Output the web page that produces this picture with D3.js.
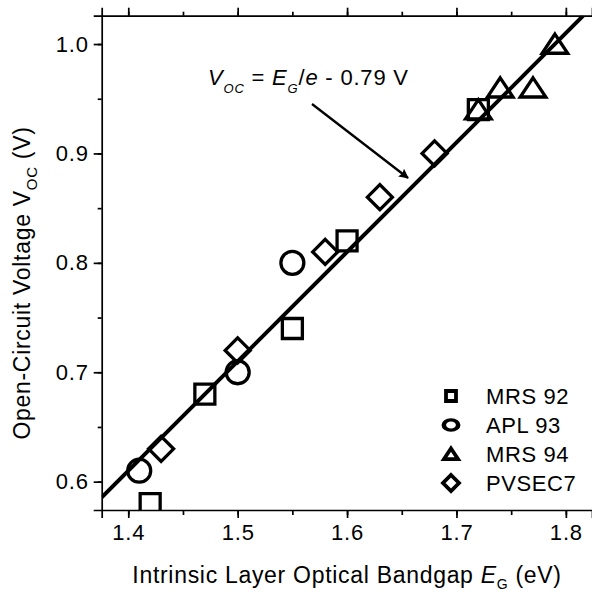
<!DOCTYPE html>
<html>
<head>
<meta charset="utf-8">
<script src="https://cdn.jsdelivr.net/npm/d3@7"></script>
<style>
  body { margin: 0; background: #fff; }
  svg text { font-family: "Liberation Sans", Arial, sans-serif; fill: #000; }
</style>
</head>
<body>
<svg id="chart" width="592" height="592"></svg>
<script>
// data
var seriesNames = ["MRS 92", "APL 93", "MRS 94", "PVSEC7"];
var mrs92Gap = [1.42, 1.47, 1.55, 1.60, 1.72];
var mrs92Voc = [0.58, 0.68, 0.74, 0.82, 0.94];
var apl93Gap = [1.41, 1.50, 1.55];
var apl93Voc = [0.61, 0.70, 0.80];
var mrs94Gap = [1.72, 1.74, 1.77, 1.79];
var mrs94Voc = [0.94, 0.96, 0.96, 1.00];
var pvsecGap = [1.43, 1.50, 1.58, 1.63, 1.68];
var pvsecVoc = [0.63, 0.72, 0.81, 0.86, 0.90];
var fitOffset = 0.79;
var xTicks = [1.4, 1.5, 1.6, 1.7, 1.8];
var yTicks = [0.6, 0.7, 0.8, 0.9, 1.0];

var svg = d3.select("#chart");
var plotLeft = 101.7, plotRight = 592, plotTop = 15.7, plotBottom = 510;

var x = d3.scaleLinear().domain([1.3757, 1.8239]).range([plotLeft, plotRight]);
var y = d3.scaleLinear().domain([0.5741, 1.0259]).range([plotBottom, plotTop]);

var defs = svg.append("defs");
defs.append("clipPath").attr("id", "plot-clip")
  .append("rect")
    .attr("x", plotLeft).attr("y", plotTop)
    .attr("width", plotRight - plotLeft).attr("height", plotBottom - plotTop);

// shapes, drawn around 0,0
var shapePath = {
  square: function(s) { return "M" + (-s) + "," + (-s) + "H" + s + "V" + s + "H" + (-s) + "Z"; },
  circle: function(s) { return "M" + (-s) + ",0A" + s + "," + s + " 0 1,0 " + s + ",0A" + s + "," + s + " 0 1,0 " + (-s) + ",0Z"; },
  triangle: function(s) { return "M0," + (-s * 0.78) + "L" + s + "," + (s * 0.72) + "L" + (-s) + "," + (s * 0.72) + "Z"; },
  diamond: function(s) { return "M0," + (-s) + "L" + s + ",0L0," + s + "L" + (-s) + ",0Z"; }
};

var series = [
  { name: seriesNames[0], shape: "square", size: 10, gap: mrs92Gap, voc: mrs92Voc },
  { name: seriesNames[1], shape: "circle", size: 11.5, gap: apl93Gap, voc: apl93Voc },
  { name: seriesNames[2], shape: "triangle", size: 12.8, gap: mrs94Gap, voc: mrs94Voc },
  { name: seriesNames[3], shape: "diamond", size: 12.5, gap: pvsecGap, voc: pvsecVoc }
];

// fit line
var fitGap = [x.domain()[0], y.domain()[1] + fitOffset];
var plot = svg.append("g").attr("clip-path", "url(#plot-clip)");
plot.append("path")
  .datum(fitGap)
  .attr("d", d3.line().x(function(d) { return x(d); }).y(function(d) { return y(d - fitOffset); }))
  .attr("fill", "none")
  .attr("stroke", "#000")
  .attr("stroke-width", 4);

series.forEach(function(s) {
  plot.selectAll(".pt-" + s.shape)
    .data(s.gap.map(function(g, i) { return [g, s.voc[i]]; }))
    .enter()
    .append("path")
      .attr("class", "pt-" + s.shape)
      .attr("transform", function(d) { return "translate(" + x(d[0]) + "," + y(d[1]) + ")"; })
      .attr("d", shapePath[s.shape](s.size))
      .attr("fill", "none")
      .attr("stroke", "#000")
      .attr("stroke-width", 3.3);
});

// axes
var xMinor = d3.range(1.4, 1.83, 0.05);
var yMinor = d3.range(0.6, 1.03, 0.05);

svg.append("g")
  .attr("transform", "translate(0," + plotBottom + ")")
  .call(d3.axisBottom(x).tickValues(xMinor).tickSize(5).tickFormat(""))
  .call(function(g) { g.select(".domain").remove(); });
svg.append("g")
  .attr("transform", "translate(0," + plotBottom + ")")
  .call(d3.axisBottom(x).tickValues(xTicks).tickSize(8).tickPadding(6).tickFormat(d3.format(".1f")));

svg.append("g")
  .attr("transform", "translate(0," + plotTop + ")")
  .call(d3.axisTop(x).tickValues(xMinor).tickSize(4).tickFormat(""))
  .call(function(g) { g.select(".domain").remove(); });
svg.append("g")
  .attr("transform", "translate(0," + plotTop + ")")
  .call(d3.axisTop(x).tickValues(xTicks).tickSize(8).tickFormat(""));

svg.append("g")
  .attr("transform", "translate(" + plotLeft + ",0)")
  .call(d3.axisLeft(y).tickValues(yMinor).tickSize(4).tickFormat(""))
  .call(function(g) { g.select(".domain").remove(); });
svg.append("g")
  .attr("transform", "translate(" + plotLeft + ",0)")
  .call(d3.axisLeft(y).tickValues(yTicks).tickSize(8).tickPadding(5).tickFormat(d3.format(".1f")));

svg.selectAll(".domain, .tick line")
  .attr("stroke", "#000")
  .attr("stroke-width", 1.7);
svg.selectAll(".tick text")
  .style("font-size", "22px")
  .style("letter-spacing", "0.8px")
  .attr("fill", "#000");

// axis titles
var xTitle = svg.append("text")
  .attr("x", 347).attr("y", 583)
  .attr("text-anchor", "middle")
  .style("font-size", "23px")
  .style("letter-spacing", "0.7px");
xTitle.append("tspan").text("Intrinsic Layer Optical Bandgap ");
xTitle.append("tspan").style("font-style", "italic").text("E");
xTitle.append("tspan").style("font-size", "14px").attr("dy", 6).text("G");
xTitle.append("tspan").attr("dy", -6).text(" (eV)");

var yTitle = svg.append("text")
  .attr("transform", "translate(30,283) rotate(-90)")
  .attr("text-anchor", "middle")
  .style("font-size", "23px")
  .style("letter-spacing", "0.7px");
yTitle.append("tspan").text("Open-Circuit Voltage V");
yTitle.append("tspan").style("font-size", "15px").attr("dy", 7).text("OC");
yTitle.append("tspan").attr("dy", -7).text(" (V)");

// annotation
var note = svg.append("text")
  .attr("x", 208).attr("y", 85)
  .style("font-size", "22px")
  .style("letter-spacing", "0.8px");
note.append("tspan").style("font-style", "italic").text("V");
note.append("tspan").style("font-style", "italic").style("font-size", "13px").attr("dy", 8).text("OC");
note.append("tspan").attr("dy", -8).text(" = ");
note.append("tspan").style("font-style", "italic").text("E");
note.append("tspan").style("font-style", "italic").style("font-size", "13px").attr("dy", 8).text("G");
note.append("tspan").attr("dy", -8).text("/");
note.append("tspan").style("font-style", "italic").text("e");
note.append("tspan").text(" - 0.79 V");

defs.append("marker")
  .attr("id", "arrowhead")
  .attr("viewBox", "0 0 10 10")
  .attr("refX", 9).attr("refY", 5)
  .attr("markerWidth", 7).attr("markerHeight", 4.2)
  .attr("markerUnits", "strokeWidth")
  .attr("orient", "auto")
  .append("path")
    .attr("d", "M0,0L10,5L0,10L1.5,5Z")
    .attr("fill", "#000");

svg.append("line")
  .attr("x1", 312).attr("y1", 104)
  .attr("x2", 408).attr("y2", 178)
  .attr("stroke", "#000")
  .attr("stroke-width", 2.3)
  .attr("marker-end", "url(#arrowhead)");

// legend
var legendSize = { square: 5, circle: 6, triangle: 7, diamond: 8 };
var legend = svg.append("g").attr("transform", "translate(451,396)");
series.forEach(function(s, i) {
  var row = legend.append("g").attr("transform", "translate(0," + (i * 29) + ")");
  var sym = row.append("path")
    .attr("d", shapePath[s.shape](legendSize[s.shape]))
    .attr("fill", "none")
    .attr("stroke", "#000")
    .attr("stroke-width", 3.8);
  if (s.shape === "circle") sym.attr("transform", "scale(1.2,0.85)");
  row.append("text")
    .attr("x", 35).attr("y", 8)
    .style("font-size", "22px")
    .style("letter-spacing", "0.6px")
    .text(s.name);
});
</script>
</body>
</html>
